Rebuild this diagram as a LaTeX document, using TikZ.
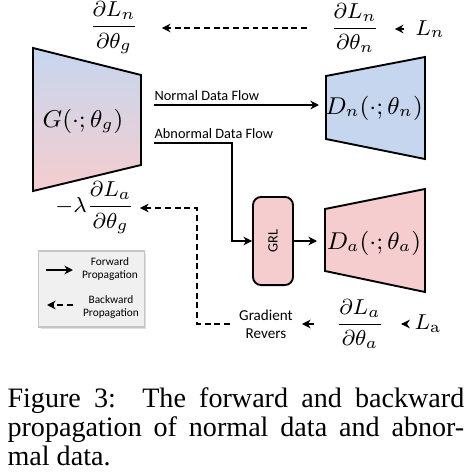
\documentclass[tikz,border=0pt]{standalone}
\usepackage{xcolor}
\usepackage{amsmath}
\usepackage{fontspec}
\setsansfont{Carlito}
\newfontfamily\capfont{Liberation Serif}
\usepackage{tikz}
\usetikzlibrary{arrows.meta,shadows,calc}
\definecolor{dblue}{RGB}{198,214,239}
\definecolor{dpink}{RGB}{245,205,207}

\begin{document}
\begin{tikzpicture}[
	x = 0.37pt, y = -0.37pt,
	fwd/.style = {line width=0.5pt,-{Stealth[length=3.2pt,width=3.2pt]}},
	bwd/.style = {fwd,dash pattern=on 2.2pt off 1.4pt},
	net/.style = {line width=0.7pt,line join=miter},
	lbl/.style = {font=\sffamily\fontsize{5.3}{6}\selectfont,inner sep=1pt},
	mth/.style = {font=\fontsize{8}{9}\selectfont,inner sep=1pt},
	captxt/.style = {font=\capfont\fontsize{10.4}{12}\selectfont,anchor=base west,inner sep=0pt}]

	\useasboundingbox (0,0) rectangle (471,476);

	\draw[net,top color=dblue,bottom color=dpink] (33,48) -- (141,75) -- (141,165) -- (33,191) -- cycle;
	\draw[net,fill=dblue] (326,76) -- (425,57) -- (425,159) -- (326,139) -- cycle;
	\draw[net,fill=dpink] (325,209) -- (425,189) -- (425,292) -- (325,271) -- cycle;

	\node[font=\fontsize{9}{10}\selectfont] (g) at (83,121) {$G(\cdot;\theta_g)$};
	\node[font=\fontsize{9}{10}\selectfont] (dn) at (374,108) {$D_n(\cdot;\theta_n)$};
	\node[font=\fontsize{9}{10}\selectfont] (da) at (374,243) {$D_a(\cdot;\theta_a)$};

	\node[draw,net,fill=dpink,rounded corners=3pt,minimum width=14.8pt,minimum height=32.6pt,inner sep=0pt,lbl] (grl) at (273,241) {\rotatebox{90}{GRL}};

	\coordinate (nstart) at (154,105);
	\coordinate (nend) at (319,105);
	\coordinate (astart) at (154,143);
	\coordinate (abend) at (232,143);
	\coordinate (dain) at (317,241);

	\draw[fwd] (nstart) node[lbl,above right,inner xsep=0pt,inner ysep=1.5pt]{Normal Data Flow} -- (nend);
	\draw[fwd] (astart) node[lbl,above right,inner xsep=0pt,inner ysep=1.5pt]{Abnormal Data Flow} -- (abend) |- (grl.west);
	\draw[fwd] (grl.east) -- (dain);

	\node[mth] (dgn) at (114,28) {$\dfrac{\partial L_n}{\partial\theta_g}$};
	\node[mth] (dnn) at (355,28) {$\dfrac{\partial L_n}{\partial\theta_n}$};
	\node[mth] (ln) at (430,29) {$L_n$};
	\draw[bwd,shorten <=3pt,shorten >=4.4pt] (ln.west) -- (ln.west -| dnn.east);
	\draw[bwd,shorten <=7.4pt,shorten >=7.4pt] (dnn.west) -- (dgn.east);

	\node[mth] (dag) at (95,208) {$-\lambda\dfrac{\partial L_a}{\partial\theta_g}$};
	\node[lbl,font=\sffamily\fontsize{5.6}{6.7}\selectfont,align=center] (gr) at (266,324) {Gradient\\Revers};
	\node[mth] (daa) at (360,324) {$\dfrac{\partial L_a}{\partial\theta_a}$};
	\node[mth] (la) at (428,324) {$L_\mathrm{a}$};
	\coordinate (turn) at (197,324);
	\draw[fwd,shorten <=3.3pt,shorten >=5.2pt] (la.west) -- (daa.east);
	\draw[bwd,shorten <=7pt,shorten >=2.2pt] (daa.west) -- (gr.east);
	\draw[bwd,shorten <=2.2pt,shorten >=0.8pt] (gr.west) -- (turn) |- (dag.east);

	\node[draw=gray!45,fill=gray!12,drop shadow={opacity=0.25,shadow xshift=0.6pt,shadow yshift=-0.6pt},minimum width=38.9pt,minimum height=28.1pt,inner sep=0pt] (legend) at (91.5,289) {};
	\coordinate (f0) at (46,270);
	\coordinate (f1) at (73,270);
	\coordinate (b0) at (73,305);
	\coordinate (b1) at (47,305);
	\draw[fwd] (f0) -- (f1);
	\draw[bwd] (b0) -- (b1);
	\node[lbl,font=\sffamily\fontsize{4.2}{4.6}\selectfont,align=center] (ftxt) at (110,269) {Forward\\Propagation};
	\node[lbl,font=\sffamily\fontsize{4.2}{4.6}\selectfont,align=center] (btxt) at (111,307) {Backward\\Propagation};

	\node[captxt] (cap1) at (7,407) {\makebox[169pt][s]{Figure 3:\ \ The forward and backward}};
	\node[captxt] (cap2) at (7,436) {\makebox[169pt][s]{propagation of normal data and abnor-}};
	\node[captxt] (cap3) at (7,465) {mal data.};

\end{tikzpicture}
\end{document}
